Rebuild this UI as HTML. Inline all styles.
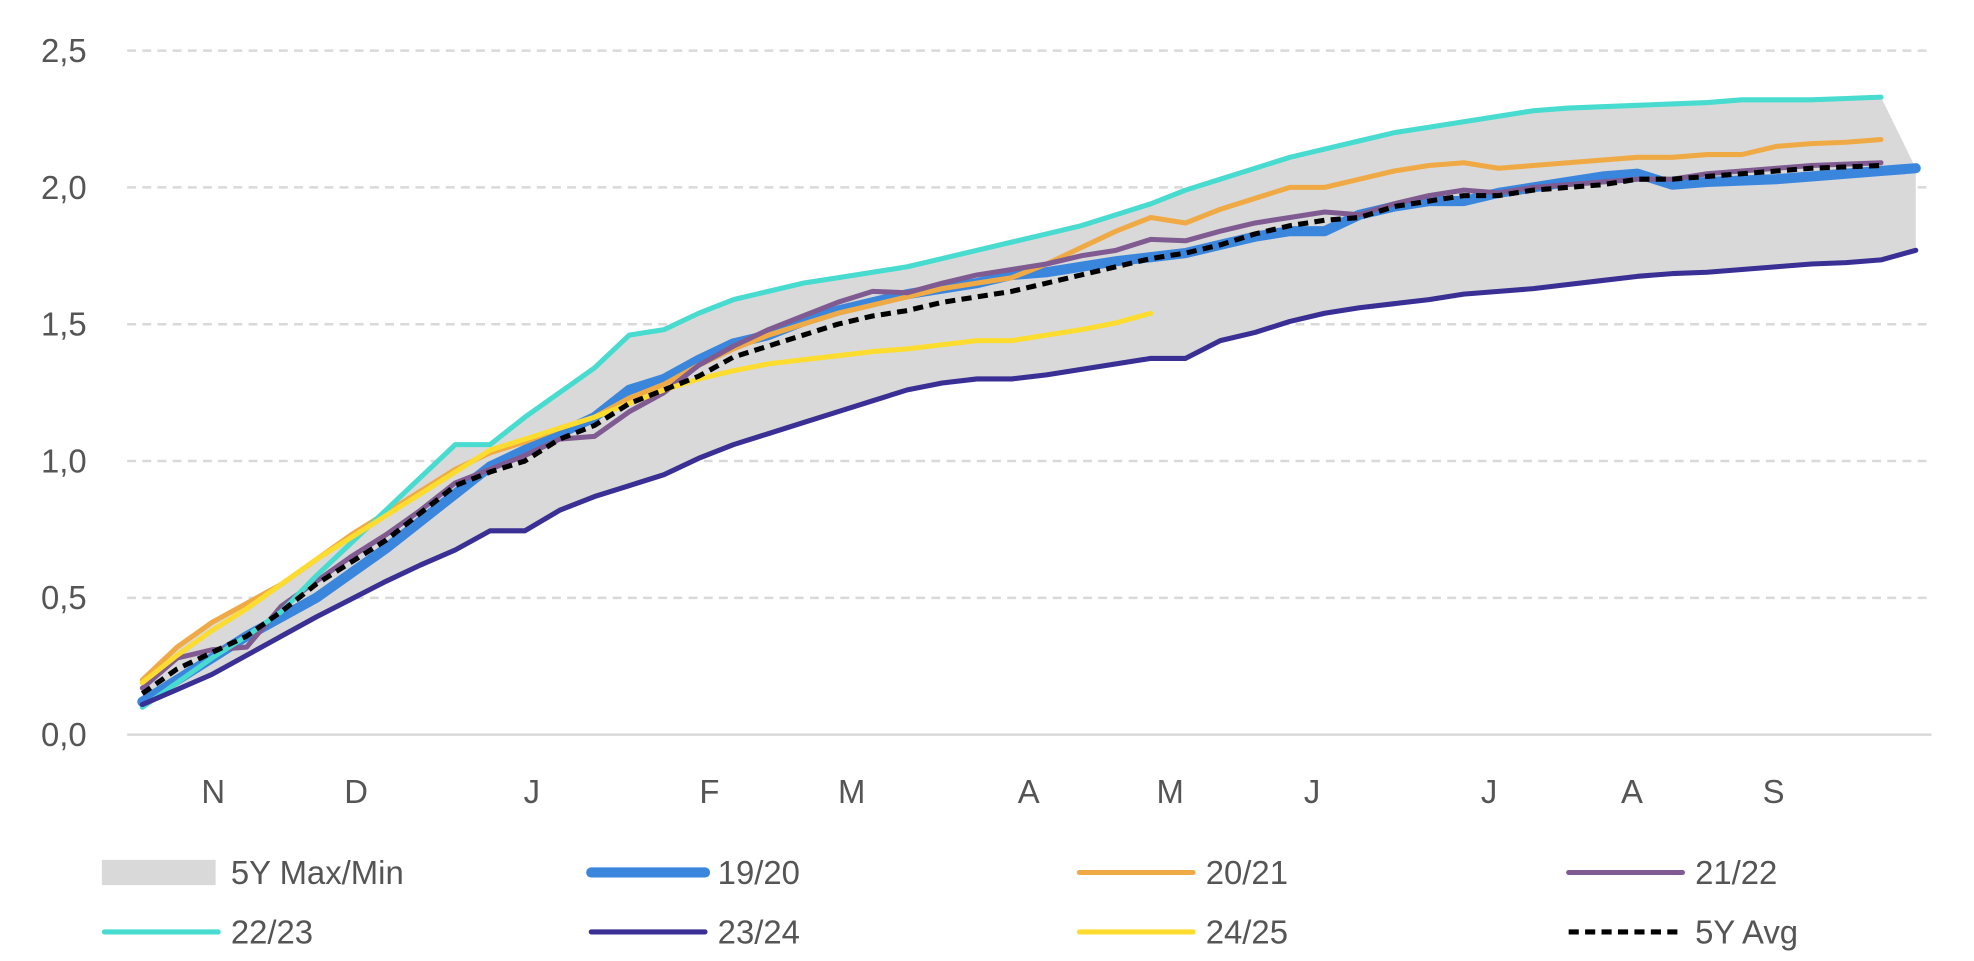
<!DOCTYPE html>
<html><head><meta charset="utf-8"><style>
html,body{margin:0;padding:0;background:#fff}
svg{display:block}
text{font-family:"Liberation Sans",sans-serif;fill:#555}
</style></head><body>
<svg id="chart" width="1974" height="961" viewBox="0 0 1560 760" xmlns="http://www.w3.org/2000/svg">
<g id="grid"></g><g id="band"></g><g id="lines"></g><g id="axes"></g><g id="legend"></g>
</svg>
<script>
const yTicks=[0,0.5,1.0,1.5,2.0,2.5];
const yTickLabels=["0,0","0,5","1,0","1,5","2,0","2,5"];
const monthLabels=["N","D","J","F","M","A","M","J","J","A","S"];
const monthPos=[2.04,6.15,11.2,16.31,20.4,25.49,29.56,33.64,38.73,42.84,46.91];
const s1920=[0.12,0.20,0.28,0.36,0.43,0.50,0.59,0.68,0.78,0.88,0.98,1.04,1.10,1.16,1.26,1.30,1.37,1.43,1.46,1.51,1.55,1.58,1.61,1.63,1.65,1.68,1.69,1.71,1.73,1.745,1.76,1.79,1.82,1.84,1.84,1.90,1.93,1.95,1.95,1.98,2.00,2.02,2.04,2.05,2.01,2.02,2.025,2.03,2.04,2.05,2.06,2.07];
const s2021=[0.20,0.32,0.41,0.48,0.55,0.64,0.73,0.81,0.89,0.97,1.03,1.07,1.12,1.16,1.23,1.28,1.35,1.41,1.46,1.50,1.54,1.57,1.60,1.63,1.65,1.67,1.72,1.78,1.84,1.89,1.87,1.92,1.96,2.00,2.00,2.03,2.06,2.08,2.09,2.07,2.08,2.09,2.10,2.11,2.11,2.12,2.12,2.15,2.16,2.165,2.175];
const s2122=[0.17,0.28,0.31,0.32,0.47,0.56,0.65,0.73,0.82,0.92,0.97,1.02,1.08,1.09,1.18,1.25,1.35,1.42,1.48,1.53,1.58,1.62,1.615,1.65,1.68,1.70,1.72,1.75,1.77,1.81,1.805,1.84,1.87,1.89,1.91,1.90,1.94,1.97,1.99,1.98,2.00,2.01,2.02,2.03,2.03,2.05,2.06,2.07,2.08,2.085,2.09];
const s2223=[0.10,0.19,0.28,0.36,0.45,0.58,0.70,0.82,0.94,1.06,1.06,1.16,1.25,1.34,1.46,1.48,1.54,1.59,1.62,1.65,1.67,1.69,1.71,1.74,1.77,1.80,1.83,1.86,1.90,1.94,1.99,2.03,2.07,2.11,2.14,2.17,2.20,2.22,2.24,2.26,2.28,2.29,2.295,2.30,2.305,2.31,2.32,2.32,2.32,2.325,2.33];
const s2324=[0.11,0.165,0.22,0.29,0.36,0.43,0.495,0.56,0.62,0.675,0.745,0.745,0.82,0.87,0.91,0.95,1.01,1.06,1.10,1.14,1.18,1.22,1.26,1.285,1.30,1.30,1.315,1.335,1.355,1.375,1.375,1.44,1.47,1.51,1.54,1.56,1.575,1.59,1.61,1.62,1.63,1.645,1.66,1.675,1.685,1.69,1.70,1.71,1.72,1.725,1.735,1.77];
const s2425=[0.19,0.29,0.38,0.46,0.55,0.64,0.72,0.80,0.88,0.96,1.04,1.08,1.12,1.16,1.21,1.26,1.30,1.33,1.355,1.37,1.385,1.40,1.41,1.425,1.44,1.44,1.46,1.48,1.505,1.54];
const avg5y=[0.15,0.24,0.30,0.36,0.45,0.55,0.63,0.71,0.81,0.91,0.96,1.00,1.08,1.13,1.21,1.26,1.31,1.38,1.42,1.46,1.50,1.53,1.55,1.58,1.60,1.62,1.65,1.68,1.71,1.74,1.76,1.79,1.83,1.86,1.88,1.89,1.93,1.95,1.97,1.97,1.99,2.00,2.01,2.03,2.03,2.04,2.05,2.06,2.07,2.075,2.08];

const NS="http://www.w3.org/2000/svg";
const X0=112, STEP=27.5, Y0=581, YPER=216.4;
function xs(i){return X0+i*STEP;}
function ys(v){return Y0-v*YPER;}
function mk(tag,attrs,parent){const e=document.createElementNS(NS,tag);for(const k in attrs)e.setAttribute(k,attrs[k]);parent.appendChild(e);return e;}
const grid=document.getElementById('grid'),band=document.getElementById('band'),lines=document.getElementById('lines'),axes=document.getElementById('axes'),legend=document.getElementById('legend');

yTicks.forEach((t,k)=>{
  const y=ys(t);
  if(t>0){const l=mk('line',{x1:100,x2:1527,y1:y,y2:y,stroke:'#d9d9d9','stroke-width':2,'stroke-dasharray':'7 5'},grid);
  
  }
  const tx=mk('text',{x:68,y:y+9,'text-anchor':'end','font-size':26},axes);
  tx.textContent=yTickLabels[k];
  
  
});
const base=mk('line',{x1:100,x2:1527,y1:ys(0),y2:ys(0),stroke:'#d9d9d9','stroke-width':2},axes);


monthLabels.forEach((m,k)=>{
  const tx=mk('text',{x:xs(monthPos[k]),y:635,'text-anchor':'middle','font-size':26},axes);
  tx.textContent=m;
  
  
});

// band from 5 seasons
const hist=[s1920,s2021,s2122,s2223,s2324];
const n=Math.max(...hist.map(a=>a.length));
const mx=[],mn=[];
for(let i=0;i<n;i++){const v=hist.map(a=>a[i]).filter(v=>v!==undefined);mx.push(Math.max(...v));mn.push(Math.min(...v));}
let d='';
mx.forEach((v,i)=>{d+=(i?'L':'M')+xs(i)+','+ys(v);});
for(let i=n-1;i>=0;i--)d+='L'+xs(i)+','+ys(mn[i]);
const bp=mk('path',{d:d+'Z',fill:'#d9d9d9'},band);



function line(arr,color,w,name,dash){
  const pts=arr.map((v,i)=>xs(i)+','+ys(v)).join(' ');
  const a={points:pts,fill:'none',stroke:color,'stroke-width':w,'stroke-linejoin':'round','stroke-linecap':'round'};
  if(dash){a['stroke-dasharray']=dash;a['stroke-linecap']='butt';}
  const p=mk('polyline',a,lines);
  
  
}
line(s1920,'#3b86dd',8,'line-19-20');
line(s2021,'#f0aa45',4,'line-20-21');
line(s2122,'#7f5b92',4,'line-21-22');
line(s2223,'#48dbcf',4,'line-22-23');
line(s2324,'#3a2f95',4,'line-23-24');
line(s2425,'#fddc30',4,'line-24-25');
line(avg5y,'#000',4,'line-5y-avg','8 5');

const items=[
 ['5Y Max/Min','band'],['19/20','#3b86dd',8],['20/21','#f0aa45',4],['21/22','#7f5b92',4],
 ['22/23','#48dbcf',4],['23/24','#3a2f95',4],['24/25','#fddc30',4],['5Y Avg','#000',4,'8 5']];
const colX=[80,465,851,1238],rowY=[690,737];
items.forEach((it,k)=>{
  const g=mk('g',{},legend);
  
  
  const x=colX[k%4],y=rowY[Math.floor(k/4)];
  if(it[1]==='band'){mk('rect',{x:x,y:y-10,width:90,height:20,fill:'#d9d9d9'},g);}
  else{const a={x1:x+2,x2:x+92,y1:y,y2:y,stroke:it[1],'stroke-width':it[2],'stroke-linecap':'round'};
    if(it[3]){a['stroke-dasharray']=it[3];a['stroke-linecap']='butt';}mk('line',a,g);}
  const t=mk('text',{x:x+102,y:y+9,'font-size':26},g);
  t.textContent=it[0];
});
</script>
</body></html>
